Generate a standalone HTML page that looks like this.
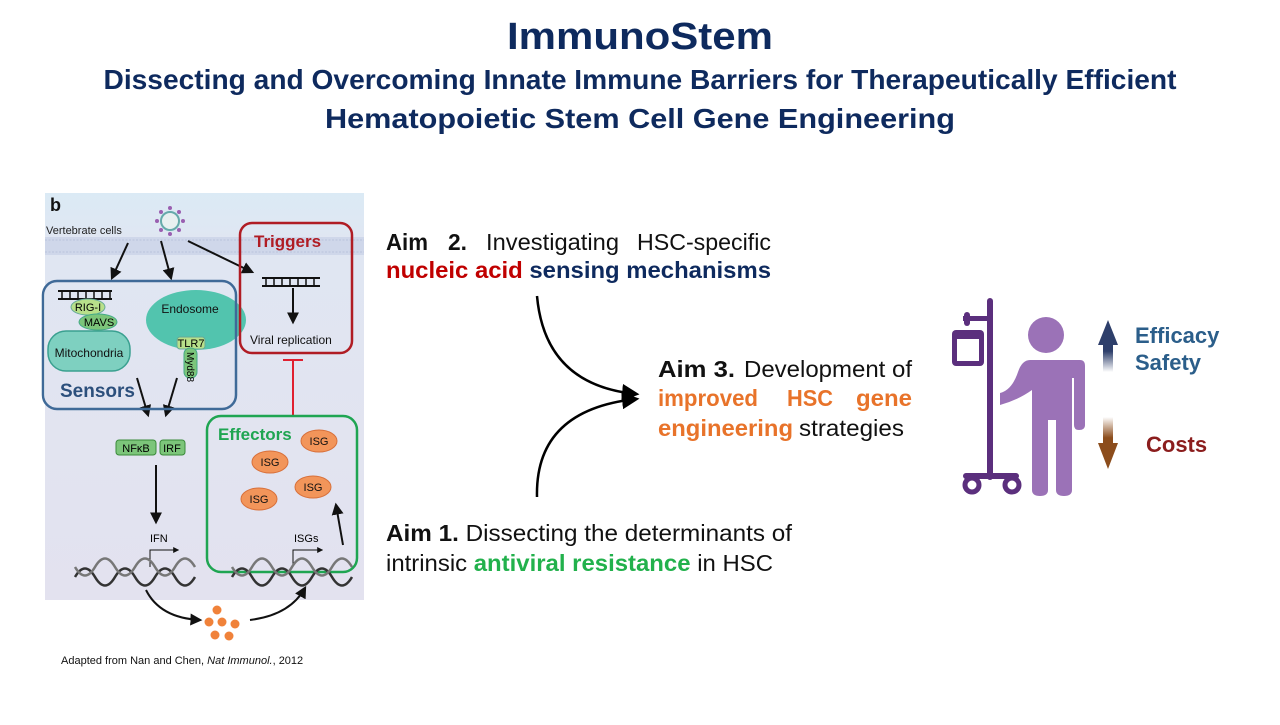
<!DOCTYPE html>
<html><head><meta charset="utf-8"><style>
body{margin:0;width:1280px;height:720px;background:#fff;overflow:hidden;font-family:"Liberation Sans",Arial,sans-serif}
</style></head><body>
<svg width="1280" height="720" viewBox="0 0 1280 720" xmlns="http://www.w3.org/2000/svg" font-family="Liberation Sans, Arial, sans-serif">
<defs>
<linearGradient id="bg" x1="0" y1="0" x2="0" y2="1">
<stop offset="0" stop-color="#dbeaf5"/><stop offset="0.12" stop-color="#e0e6f2"/><stop offset="1" stop-color="#e3e2ef"/></linearGradient>
<marker id="ah" viewBox="0 0 10 10" refX="8" refY="5" markerWidth="6" markerHeight="6" orient="auto"><path d="M0,0L10,5L0,10z" fill="#111"/></marker>
<marker id="ah2" viewBox="0 0 10 10" refX="8" refY="5" markerWidth="7" markerHeight="7" orient="auto"><path d="M0,0L10,5L0,10z" fill="#000"/></marker>
<linearGradient id="up" x1="0" y1="0" x2="0" y2="1"><stop offset="0.6" stop-color="#2e3f6b"/><stop offset="1" stop-color="#2e3f6b" stop-opacity="0"/></linearGradient>
<linearGradient id="dn" x1="0" y1="1" x2="0" y2="0"><stop offset="0.6" stop-color="#8c4d1c"/><stop offset="1" stop-color="#8c4d1c" stop-opacity="0"/></linearGradient>
</defs>
<!-- Title -->
<text x="640" y="49" text-anchor="middle" font-size="38" font-weight="bold" fill="#0e2a5e" textLength="266" lengthAdjust="spacingAndGlyphs">ImmunoStem</text>
<text x="640" y="89" text-anchor="middle" font-size="28" font-weight="bold" fill="#0e2a5e" textLength="1073" lengthAdjust="spacingAndGlyphs">Dissecting and Overcoming Innate Immune Barriers for Therapeutically Efficient</text>
<text x="640" y="128" text-anchor="middle" font-size="28" font-weight="bold" fill="#0e2a5e" textLength="630" lengthAdjust="spacingAndGlyphs">Hematopoietic Stem Cell Gene Engineering</text>

<!-- Panel -->
<rect x="45" y="193" width="319" height="407" fill="url(#bg)"/>
<rect x="45" y="237" width="319" height="18" fill="#cfd7ea"/>
<g stroke="#b9c3dc" stroke-width="1">
<path d="M45,240H364M45,252H364" stroke-dasharray="2 1.5"/>
</g>
<text x="50" y="211" font-size="18" font-weight="bold" fill="#111">b</text>
<text x="46" y="234" font-size="11" fill="#222">Vertebrate cells</text>
<g transform="translate(170,221)">
<circle r="9" fill="#e8f0f0" stroke="#6aa" stroke-width="2"/>
<g fill="#9a5fb0"><circle cx="0" cy="-13" r="2"/><circle cx="0" cy="13" r="2"/><circle cx="-13" cy="0" r="2"/><circle cx="13" cy="0" r="2"/><circle cx="9" cy="-9" r="2"/><circle cx="-9" cy="-9" r="2"/><circle cx="9" cy="9" r="2"/><circle cx="-9" cy="9" r="2"/></g>
</g>
<g stroke="#111" stroke-width="2" fill="none" marker-end="url(#ah)">
<line x1="128" y1="243" x2="112" y2="278"/>
<line x1="161" y1="241" x2="171" y2="278"/>
<line x1="188" y1="241" x2="252" y2="272"/>
<line x1="293" y1="288" x2="293" y2="322"/>
<line x1="137" y1="378" x2="148" y2="415"/>
<line x1="177" y1="378" x2="166" y2="415"/>
<line x1="156" y1="465" x2="156" y2="522"/>
<line x1="343" y1="545" x2="336" y2="505"/>
</g>
<g stroke="#111" stroke-width="2">
<path d="M58,291H112M58,299H112M160,330H213M160,338H213M262,278H320M262,286H320"/>
</g>
<g stroke="#111" stroke-width="1.5">
<path d="M62,291V299M70,291V299M78,291V299M86,291V299M94,291V299M102,291V299M110,291V299M164,330V338M172,330V338M180,330V338M188,330V338M196,330V338M204,330V338M212,330V338M266,278V286M274,278V286M282,278V286M290,278V286M298,278V286M306,278V286M314,278V286"/>
</g>
<rect x="48" y="331" width="82" height="40" rx="18" fill="#7ed0c0" stroke="#3aa090" stroke-width="1.5"/>
<text x="89" y="357" text-anchor="middle" font-size="12" fill="#111">Mitochondria</text>
<ellipse cx="88" cy="307" rx="17" ry="8" fill="#b8e08a" stroke="#6a9" stroke-width="1"/>
<text x="88" y="311" text-anchor="middle" font-size="11">RIG-I</text>
<ellipse cx="98" cy="322" rx="19" ry="8" fill="#7cc57a" stroke="#4a8" stroke-width="1"/>
<text x="99" y="326" text-anchor="middle" font-size="11">MAVS</text>
<ellipse cx="196" cy="320" rx="50" ry="30" fill="#52c4ae"/>
<text x="190" y="313" text-anchor="middle" font-size="12" fill="#111">Endosome</text>
<rect x="177" y="337" width="28" height="12" rx="3" fill="#b8e08a" stroke="#6a9"/>
<text x="191" y="347" text-anchor="middle" font-size="11">TLR7</text>
<rect x="184" y="348" width="13" height="30" rx="6" fill="#7cc57a" stroke="#4a8"/>
<text transform="translate(187,352) rotate(90)" font-size="10">Myd88</text>
<rect x="43" y="281" width="193" height="128" rx="14" fill="none" stroke="#3f6a98" stroke-width="2.5"/>
<text x="60" y="397" font-size="19" font-weight="bold" fill="#2c4f7c">Sensors</text>
<rect x="240" y="223" width="112" height="130" rx="12" fill="none" stroke="#b01c24" stroke-width="2.5"/>
<text x="254" y="247" font-size="17" font-weight="bold" fill="#b01c24">Triggers</text>
<text x="250" y="344" font-size="12" fill="#111">Viral replication</text>
<path d="M293,416V360M283,360H303" stroke="#e02030" stroke-width="2" fill="none"/>
<rect x="116" y="440" width="40" height="15" rx="3" fill="#7cc57a" stroke="#3a8a3a"/>
<text x="136" y="452" text-anchor="middle" font-size="11">NFκB</text>
<rect x="160" y="440" width="25" height="15" rx="3" fill="#7cc57a" stroke="#3a8a3a"/>
<text x="172" y="452" text-anchor="middle" font-size="11">IRF</text>
<rect x="207" y="416" width="150" height="156" rx="14" fill="none" stroke="#1fa552" stroke-width="2.5"/>
<text x="218" y="440" font-size="17" font-weight="bold" fill="#1fa552">Effectors</text>
<g fill="#f2955a" stroke="#d8703a" stroke-width="1">
<ellipse cx="319" cy="441" rx="18" ry="11"/><ellipse cx="270" cy="462" rx="18" ry="11"/><ellipse cx="313" cy="487" rx="18" ry="11"/><ellipse cx="259" cy="499" rx="18" ry="11"/></g>
<g font-size="11" text-anchor="middle" fill="#111"><text x="319" y="445">ISG</text><text x="270" y="466">ISG</text><text x="313" y="491">ISG</text><text x="259" y="503">ISG</text></g>
<text x="150" y="542" font-size="11">IFN</text>
<text x="294" y="542" font-size="11">ISGs</text>
<path d="M150,567V550H178" stroke="#111" stroke-width="1" fill="none" marker-end="url(#ah)"/>
<path d="M293,567V550H322" stroke="#111" stroke-width="1" fill="none" marker-end="url(#ah)"/>
<g stroke="#333" stroke-width="2.5" fill="none">
<path d="M75,577 Q85,560 95,577 T115,577 T135,577 T155,577 T175,577 T195,577"/>
<path d="M75,567 Q85,584 95,567 T115,567 T135,567 T155,567 T175,567 T195,567" stroke="#777"/>
<path d="M232,577 Q242,560 252,577 T272,577 T292,577 T312,577 T332,577 T352,577"/>
<path d="M232,567 Q242,584 252,567 T272,567 T292,567 T312,567 T332,567 T352,567" stroke="#777"/>
</g>
<path d="M146,590 Q160,618 200,620" stroke="#111" stroke-width="2" fill="none" marker-end="url(#ah)"/>
<path d="M250,620 Q290,615 305,588" stroke="#111" stroke-width="2" fill="none" marker-end="url(#ah)"/>
<g fill="#f0823a"><circle cx="217" cy="610" r="4.5"/><circle cx="209" cy="622" r="4.5"/><circle cx="222" cy="622" r="4.5"/><circle cx="235" cy="624" r="4.5"/><circle cx="215" cy="635" r="4.5"/><circle cx="229" cy="636" r="4.5"/></g>
<text x="61" y="664" font-size="11" fill="#111">Adapted from Nan and Chen, <tspan font-style="italic">Nat Immunol.</tspan>, 2012</text>

<!-- Aims -->
<g font-size="23" fill="#111">
<text x="386" y="250" font-weight="bold" textLength="42" lengthAdjust="spacingAndGlyphs">Aim</text>
<text x="448" y="250" font-weight="bold" textLength="19" lengthAdjust="spacingAndGlyphs">2.</text>
<text x="486" y="250" textLength="133" lengthAdjust="spacingAndGlyphs">Investigating</text>
<text x="637" y="250" textLength="134" lengthAdjust="spacingAndGlyphs">HSC-specific</text>
<text x="386" y="278" font-weight="bold" textLength="385" lengthAdjust="spacingAndGlyphs"><tspan fill="#c00000">nucleic acid</tspan> <tspan fill="#0e2a5e">sensing mechanisms</tspan></text>

<text x="658" y="377" font-weight="bold" textLength="77" lengthAdjust="spacingAndGlyphs">Aim 3.</text>
<text x="744" y="377" textLength="168" lengthAdjust="spacingAndGlyphs">Development of</text>
<text x="658" y="406" font-weight="bold" fill="#e8732a" textLength="100" lengthAdjust="spacingAndGlyphs">improved</text>
<text x="787" y="406" font-weight="bold" fill="#e8732a" textLength="46" lengthAdjust="spacingAndGlyphs">HSC</text>
<text x="856" y="406" font-weight="bold" fill="#e8732a" textLength="56" lengthAdjust="spacingAndGlyphs">gene</text>
<text x="658" y="436" font-weight="bold" fill="#e8732a" textLength="135" lengthAdjust="spacingAndGlyphs">engineering</text>
<text x="799" y="436" textLength="105" lengthAdjust="spacingAndGlyphs">strategies</text>

<text x="386" y="541" textLength="406" lengthAdjust="spacingAndGlyphs"><tspan font-weight="bold">Aim 1.</tspan> Dissecting the determinants of</text>
<text x="386" y="571" textLength="387" lengthAdjust="spacingAndGlyphs">intrinsic <tspan font-weight="bold" fill="#22b14c">antiviral resistance</tspan> in HSC</text>
</g>
<path d="M537,296 Q545,385 636,394" stroke="#000" stroke-width="2.5" fill="none" marker-end="url(#ah2)"/>
<path d="M537,497 Q535,410 636,399" stroke="#000" stroke-width="2.5" fill="none" marker-end="url(#ah2)"/>

<!-- Patient -->
<g fill="#5b2f7d">
<rect x="987" y="298" width="6" height="182" rx="3"/>
<rect x="963" y="316" width="28" height="5"/>
<rect x="964" y="312" width="6" height="14" rx="3"/>
<rect x="952" y="330" width="32" height="36" rx="4"/>
<rect x="963" y="473" width="56" height="6" rx="3"/>
</g>
<rect x="957" y="339" width="22" height="22" fill="#fff"/>
<g fill="none" stroke="#5b2f7d" stroke-width="5"><circle cx="972" cy="485" r="7"/><circle cx="1012" cy="485" r="7"/></g>
<g fill="#9b72b7">
<circle cx="1046" cy="335" r="18"/>
<path d="M1010,360 H1080 Q1085,360 1085,366 V425 Q1085,430 1079,430 Q1074,430 1074,425 V378 H1072 V490 Q1072,496 1064,496 Q1056,496 1056,490 V420 H1048 V490 Q1048,496 1040,496 Q1032,496 1032,490 V390 Q1018,400 1000,405 V393 Q1012,390 1018,372 Q1022,360 1030,360 Z"/>
</g>
<path d="M1098,345 L1108,320 L1118,345 H1113 V372 H1103 V345 Z" fill="url(#up)"/>
<path d="M1098,443 L1108,469 L1118,443 H1113 V417 H1103 V443 Z" fill="url(#dn)"/>
<text x="1135" y="343" font-size="22" font-weight="bold" fill="#2b5e8a">Efficacy</text>
<text x="1135" y="370" font-size="22" font-weight="bold" fill="#2b5e8a">Safety</text>
<text x="1146" y="452" font-size="22" font-weight="bold" fill="#8b1d1d">Costs</text>
</svg>
</body></html>
